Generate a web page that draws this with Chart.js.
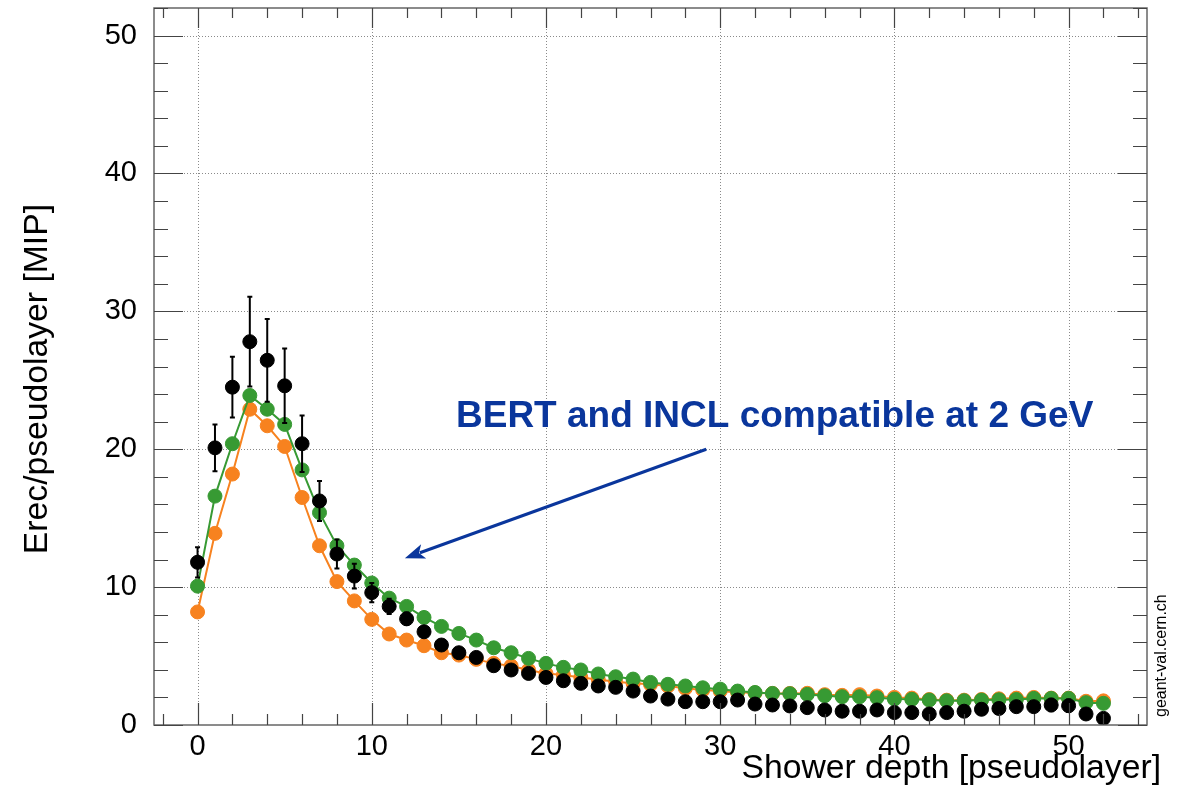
<!DOCTYPE html>
<html>
<head>
<meta charset="utf-8">
<script src="https://cdn.jsdelivr.net/npm/chart.js@4.4.1/dist/chart.umd.min.js"></script>
<style>
html,body{margin:0;padding:0;background:#fff;}
#wrap{width:1184px;height:795px;position:relative;}
</style>
</head>
<body>
<div id="wrap"><canvas id="c" width="1184" height="795"></canvas></div>
<script>
// ---- data ----
const depth = Array.from({length: 53}, (_, i) => i); // pseudolayer 0..52
const dataValues = [11.8,20.1,24.5,27.8,26.45,24.6,20.4,16.25,12.4,10.8,9.6,8.6,7.7,6.76,5.8,5.24,4.9,4.3,3.99,3.74,3.45,3.21,3.02,2.83,2.73,2.46,2.1,1.88,1.69,1.69,1.69,1.81,1.52,1.45,1.38,1.26,1.09,1.0,1.0,1.09,0.9,0.9,0.8,0.9,1.0,1.14,1.2,1.33,1.33,1.45,1.4,0.8,0.48];
const dataErrors = [1.1,1.7,2.2,3.25,3.0,2.7,2.05,1.45,1.05,0.9,0.7,0.55,0.45,0.4,0.35,0.3,0.3,0.3,0.3,0.3,0.3,0.3,0.3,0.3,0.3,0.3,0.3,0.3,0.3,0.3,0.3,0.3,0.3,0.3,0.3,0.3,0.3,0.3,0.3,0.3,0.3,0.3,0.3,0.3,0.3,0.3,0.3,0.3,0.3,0.45,0.45,0.3,0.3];
const greenValues = [10.07,16.6,20.4,23.9,22.9,21.8,18.5,15.4,13.0,11.6,10.3,9.2,8.6,7.8,7.15,6.64,6.16,5.6,5.24,4.83,4.47,4.18,3.99,3.7,3.5,3.33,3.09,2.95,2.83,2.7,2.6,2.46,2.36,2.29,2.27,2.22,2.12,2.05,2.05,1.98,1.88,1.86,1.81,1.76,1.76,1.81,1.83,1.85,1.93,1.93,1.93,1.62,1.57];
const orangeValues = [8.2,13.9,18.2,22.9,21.7,20.2,16.5,13.0,10.4,9.0,7.66,6.6,6.16,5.75,5.24,5.07,4.76,4.47,4.28,3.99,3.74,3.62,3.45,3.3,3.14,3.02,2.95,2.83,2.66,2.54,2.46,2.36,2.33,2.29,2.29,2.3,2.2,2.15,2.2,2.1,2.0,1.95,1.85,1.8,1.8,1.85,1.9,1.95,2.0,1.95,1.95,1.72,1.75];

const xTickLabels = [0,10,20,30,40,50];
const yTickLabels = [0,10,20,30,40,50];
const xMinorTicks = Array.from({length: 29}, (_, i) => -2 + 2*i); // -2..54
const yMinorTicks = Array.from({length: 27}, (_, i) => 2*i);      // 0..52
const xTitle = 'Shower depth [pseudolayer]';
const yTitle = 'Erec/pseudolayer [MIP]';
const noteText = 'BERT and INCL compatible at 2 GeV';
const watermark = 'geant-val.cern.ch';
// annotation anchor points in data coordinates
const noteAt = {x: 14.95, y: 21.6};
const arrowFrom = {x: 29.2, y: 20.0};
const arrowTo = {x: 11.9, y: 12.1};

const FONT = '"Liberation Sans", Arial, sans-serif';
const GREEN = '#379a33';
const ORANGE = '#f7821f';
const BLUE = '#0a369c';

function pts(vals){ return vals.map((v,i)=>({x: depth[i], y: v})); }

const rootStyle = {
  id: 'rootStyle',
  beforeDatasetsDraw(chart){
    const {ctx, chartArea: a, scales: {x, y}} = chart;
    ctx.save();
    ctx.strokeStyle = '#8a8a8a';
    ctx.lineWidth = 1;
    ctx.setLineDash([1,2]);
    xTickLabels.forEach(v => {
      const px = Math.round(x.getPixelForValue(v)) + 0.5;
      ctx.beginPath(); ctx.moveTo(px, a.top); ctx.lineTo(px, a.bottom); ctx.stroke();
    });
    yTickLabels.filter(v => v > 0).forEach(v => {
      const py = Math.round(y.getPixelForValue(v)) + 0.5;
      ctx.beginPath(); ctx.moveTo(a.left, py); ctx.lineTo(a.right, py); ctx.stroke();
    });
    ctx.restore();
  },
  afterDatasetsDraw(chart){
    const {ctx, chartArea: a, scales: {x, y}} = chart;
    ctx.save();
    // error bars on the black data
    ctx.strokeStyle = '#000';
    ctx.lineWidth = 2;
    dataValues.forEach((v, i) => {
      const px = x.getPixelForValue(depth[i]);
      const pt = y.getPixelForValue(v + dataErrors[i]);
      const pb = y.getPixelForValue(v - dataErrors[i]);
      ctx.beginPath();
      ctx.moveTo(px, pt); ctx.lineTo(px, pb);
      ctx.moveTo(px - 2.5, pt); ctx.lineTo(px + 2.5, pt);
      ctx.moveTo(px - 2.5, pb); ctx.lineTo(px + 2.5, pb);
      ctx.stroke();
    });
    // frame
    ctx.strokeStyle = '#666';
    ctx.lineWidth = 1.5;
    ctx.strokeRect(a.left, a.top, a.right - a.left, a.bottom - a.top);
    // ticks
    ctx.strokeStyle = '#444';
    ctx.lineWidth = 1.2;
    xMinorTicks.forEach(v => {
      const px = Math.round(x.getPixelForValue(v)) + 0.5;
      const major = xTickLabels.includes(v);
      const lb = major ? 22 : 11, lt = major ? 20 : 10;
      ctx.beginPath();
      ctx.moveTo(px, a.bottom); ctx.lineTo(px, a.bottom - lb);
      ctx.moveTo(px, a.top); ctx.lineTo(px, a.top + lt);
      ctx.stroke();
    });
    yMinorTicks.forEach(v => {
      const py = Math.round(y.getPixelForValue(v)) + 0.5;
      const major = yTickLabels.includes(v);
      const l = major ? 29 : 14;
      ctx.beginPath();
      ctx.moveTo(a.left, py); ctx.lineTo(a.left + l, py);
      ctx.moveTo(a.right, py); ctx.lineTo(a.right - l, py);
      ctx.stroke();
    });
    // axis titles
    ctx.fillStyle = '#000';
    ctx.font = '33.7px ' + FONT;
    ctx.textBaseline = 'alphabetic';
    ctx.textAlign = 'right';
    ctx.fillText(xTitle, 1161, 778);
    ctx.save();
    ctx.translate(47, 204);
    ctx.rotate(-Math.PI/2);
    ctx.textAlign = 'right';
    ctx.fillText(yTitle, 0, 0);
    ctx.restore();
    // watermark
    ctx.save();
    ctx.translate(1166, 717);
    ctx.rotate(-Math.PI/2);
    ctx.textAlign = 'left';
    ctx.font = '16px ' + FONT;
    ctx.fillText(watermark, 0, 0);
    ctx.restore();
    // annotation text
    ctx.fillStyle = BLUE;
    ctx.font = 'bold 37px ' + FONT;
    ctx.textAlign = 'left';
    ctx.fillText(noteText, x.getPixelForValue(noteAt.x) - 2, y.getPixelForValue(noteAt.y));
    // arrow
    const x1 = x.getPixelForValue(arrowFrom.x), y1 = y.getPixelForValue(arrowFrom.y);
    const x2 = x.getPixelForValue(arrowTo.x), y2 = y.getPixelForValue(arrowTo.y);
    const ang = Math.atan2(y2 - y1, x2 - x1);
    const hl = 20, hw = 7.5;
    const bx = x2 - hl*Math.cos(ang), by = y2 - hl*Math.sin(ang);
    ctx.strokeStyle = BLUE;
    ctx.lineWidth = 3;
    ctx.beginPath(); ctx.moveTo(x1, y1); ctx.lineTo(bx + 4*Math.cos(ang), by + 4*Math.sin(ang)); ctx.stroke();
    ctx.beginPath();
    ctx.moveTo(x2, y2);
    ctx.lineTo(bx + hw*Math.sin(ang), by - hw*Math.cos(ang));
    ctx.lineTo(bx + 5*Math.cos(ang), by + 5*Math.sin(ang));
    ctx.lineTo(bx - hw*Math.sin(ang), by + hw*Math.cos(ang));
    ctx.closePath();
    ctx.fillStyle = BLUE;
    ctx.fill();
    ctx.restore();
  }
};

function zeroPad(s){ s.paddingTop = 0; s.paddingBottom = 0; s.paddingLeft = 0; s.paddingRight = 0; }

new Chart(document.getElementById('c'), {
  type: 'scatter',
  data: {
    datasets: [
      {label: 'data', data: pts(dataValues), showLine: false, order: 1,
       pointRadius: 7, pointBorderWidth: 1, pointBackgroundColor: '#000', pointBorderColor: '#000'},
      {label: 'green', data: pts(greenValues), showLine: true, order: 2, borderColor: GREEN, borderWidth: 2,
       pointRadius: 7, pointBorderWidth: 1, pointBackgroundColor: GREEN, pointBorderColor: GREEN},
      {label: 'orange', data: pts(orangeValues), showLine: true, order: 3, borderColor: ORANGE, borderWidth: 2,
       pointRadius: 7, pointBorderWidth: 1, pointBackgroundColor: ORANGE, pointBorderColor: ORANGE}
    ]
  },
  options: {
    responsive: false,
    animation: false,
    devicePixelRatio: 1,
    layout: {padding: {left: 0, top: 8, right: 37, bottom: 0}},
    plugins: {legend: {display: false}, tooltip: {enabled: false}},
    scales: {
      x: {
        type: 'linear', position: 'bottom', min: -2.5, max: 54.5,
        afterBuildTicks: s => { s.ticks = xTickLabels.map(v => ({value: v})); },
        afterFit: s => { s.height = 70; zeroPad(s); },
        grid: {display: false, drawTicks: false}, border: {display: false},
        ticks: {color: '#000', font: {family: FONT, size: 29}, padding: 5, maxRotation: 0, autoSkip: false}
      },
      y: {
        type: 'linear', position: 'left', min: 0, max: 52,
        afterBuildTicks: s => { s.ticks = yTickLabels.map(v => ({value: v})); },
        afterFit: s => { s.width = 154; zeroPad(s); },
        grid: {display: false, drawTicks: false}, border: {display: false},
        ticks: {color: '#000', font: {family: FONT, size: 29}, padding: 17, autoSkip: false}
      }
    }
  },
  plugins: [rootStyle]
});
</script>
</body>
</html>
